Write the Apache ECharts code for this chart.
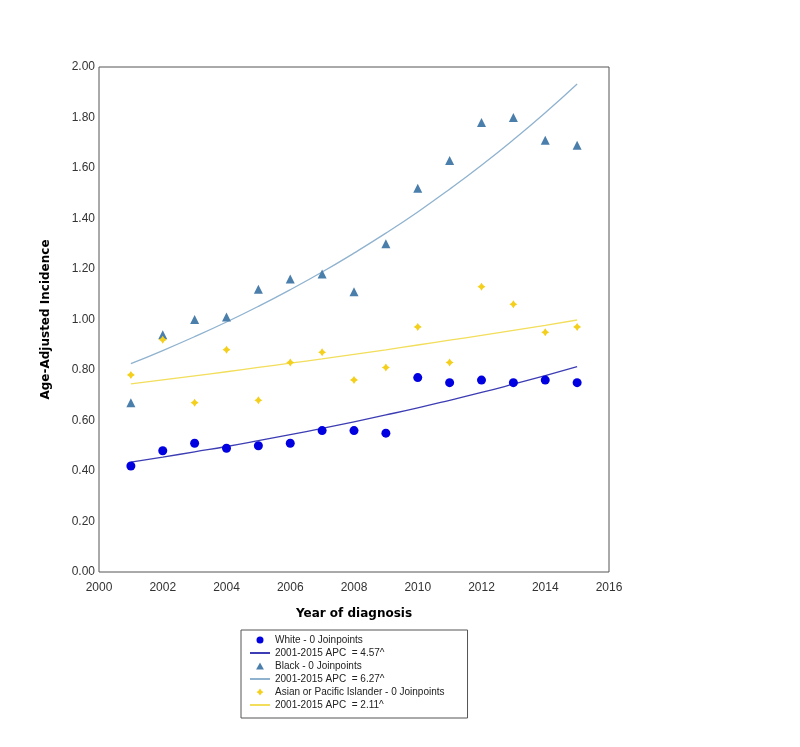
<!DOCTYPE html>
<html>
<head>
<meta charset="utf-8">
<script src="https://cdn.jsdelivr.net/npm/echarts@6/dist/echarts.min.js"></script>
<style>html,body{margin:0;padding:0;background:#fff}#c{width:800px;height:747px}</style>
</head>
<body>
<div id="c"></div>
<script>
const years = [2001,2002,2003,2004,2005,2006,2007,2008,2009,2010,2011,2012,2013,2014,2015];
const whiteObs = [0.42,0.48,0.51,0.49,0.50,0.51,0.56,0.56,0.55,0.77,0.75,0.76,0.75,0.76,0.75];
const whiteFit = [0.435,0.455,0.476,0.497,0.520,0.544,0.569,0.595,0.622,0.650,0.680,0.711,0.744,0.778,0.813];
const blackObs = [0.67,0.94,1.00,1.01,1.12,1.16,1.18,1.11,1.30,1.52,1.63,1.78,1.80,1.71,1.69];
const blackFit = [0.825,0.877,0.932,0.990,1.052,1.118,1.188,1.263,1.342,1.426,1.516,1.611,1.712,1.819,1.933];
const apiObs = [0.78,0.92,0.67,0.88,0.68,0.83,0.87,0.76,0.81,0.97,0.83,1.13,1.06,0.95,0.97];
const apiFit = [0.745,0.761,0.777,0.793,0.810,0.827,0.844,0.862,0.880,0.899,0.918,0.937,0.957,0.977,0.998];
const legendNames = [
  'White - 0 Joinpoints',
  '2001-2015 APC  = 4.57^',
  'Black - 0 Joinpoints',
  '2001-2015 APC  = 6.27^',
  'Asian or Pacific Islander - 0 Joinpoints',
  '2001-2015 APC  = 2.11^'
];

const pair = (ys) => years.map((x, i) => [x, ys[i]]);
const starPath = 'path://M0,-10 Q3,-3 10,0 Q3,3 0,10 Q-3,3 -10,0 Q-3,-3 0,-10z';
const triPath = 'path://M0,-10 L10,8 L-10,8z';
const linePath = 'path://M0,0 L60,0 L60,6 L0,6z';
const font = 'Liberation Sans, Arial, sans-serif';

const cWhite = '#0000e0', cWhiteLine = '#3c3cb4';
const cBlack = '#4a7eab', cBlackLine = '#8fb2cf';
const cApi = '#f4cf1c', cApiLine = '#f2de5a';

const chart = echarts.init(document.getElementById('c'), null, {renderer: 'canvas'});
chart.setOption({
  backgroundColor: '#fff',
  animation: false,
  grid: {left: 99, right: 191, top: 67, bottom: 175, show: true, borderColor: '#555', borderWidth: 1, backgroundColor: 'transparent'},
  xAxis: {
    type: 'value', min: 2000, max: 2016, interval: 2,
    name: 'Year of diagnosis', nameLocation: 'middle', nameGap: 36,
    nameTextStyle: {fontFamily: 'DejaVu Sans', fontWeight: 'bold', fontSize: 12, color: '#000'},
    axisLine: {show: false},
    axisTick: {show: false},
    splitLine: {show: false},
    axisLabel: {color: '#333', fontFamily: font, fontSize: 12, margin: 10, formatter: v => String(v)}
  },
  yAxis: {
    type: 'value', min: 0, max: 2, interval: 0.2,
    name: 'Age-Adjusted Incidence', nameLocation: 'middle', nameGap: 47, nameRotate: 90,
    nameTextStyle: {fontFamily: 'DejaVu Sans', fontWeight: 'bold', fontSize: 12, color: '#000'},
    axisLine: {show: false},
    axisTick: {show: false},
    splitLine: {show: false},
    axisLabel: {color: '#333', fontFamily: font, fontSize: 12, margin: 4, formatter: v => v.toFixed(2)}
  },
  legend: {
    orient: 'vertical', left: 241, top: 630,
    padding: [4, 23, 7, 9],
    borderColor: '#555', borderWidth: 1,
    itemWidth: 20, itemHeight: 7, itemGap: 1,
    symbolKeepAspect: true,
    textStyle: {fontFamily: font, fontSize: 10, color: '#222', lineHeight: 12},
    data: [
      {name: legendNames[0], icon: 'circle', itemStyle: {color: cWhite}},
      {name: legendNames[1], icon: linePath, itemStyle: {color: cWhiteLine}},
      {name: legendNames[2], icon: triPath, itemStyle: {color: cBlack}},
      {name: legendNames[3], icon: linePath, itemStyle: {color: cBlackLine}},
      {name: legendNames[4], icon: starPath, itemStyle: {color: cApi}},
      {name: legendNames[5], icon: linePath, itemStyle: {color: cApiLine}}
    ]
  },
  series: [
    {name: legendNames[0], type: 'scatter', data: pair(whiteObs), symbol: 'circle', symbolSize: 9,
     itemStyle: {color: cWhite, opacity: 1}, z: 5},
    {name: legendNames[1], type: 'line', data: pair(whiteFit), smooth: true, symbol: 'none', showSymbol: false,
     lineStyle: {color: cWhiteLine, width: 1.3}, itemStyle: {color: cWhiteLine}, z: 3},
    {name: legendNames[2], type: 'scatter', data: pair(blackObs), symbol: 'triangle', symbolSize: 9,
     itemStyle: {color: cBlack, opacity: 1}, z: 5},
    {name: legendNames[3], type: 'line', data: pair(blackFit), smooth: true, symbol: 'none', showSymbol: false,
     lineStyle: {color: cBlackLine, width: 1.3}, itemStyle: {color: cBlackLine}, z: 3},
    {name: legendNames[4], type: 'scatter', data: pair(apiObs), symbol: starPath, symbolSize: 8,
     itemStyle: {color: cApi, opacity: 1}, z: 5},
    {name: legendNames[5], type: 'line', data: pair(apiFit), smooth: true, symbol: 'none', showSymbol: false,
     lineStyle: {color: cApiLine, width: 1.3}, itemStyle: {color: cApiLine}, z: 3}
  ]
});
</script>
</body>
</html>
